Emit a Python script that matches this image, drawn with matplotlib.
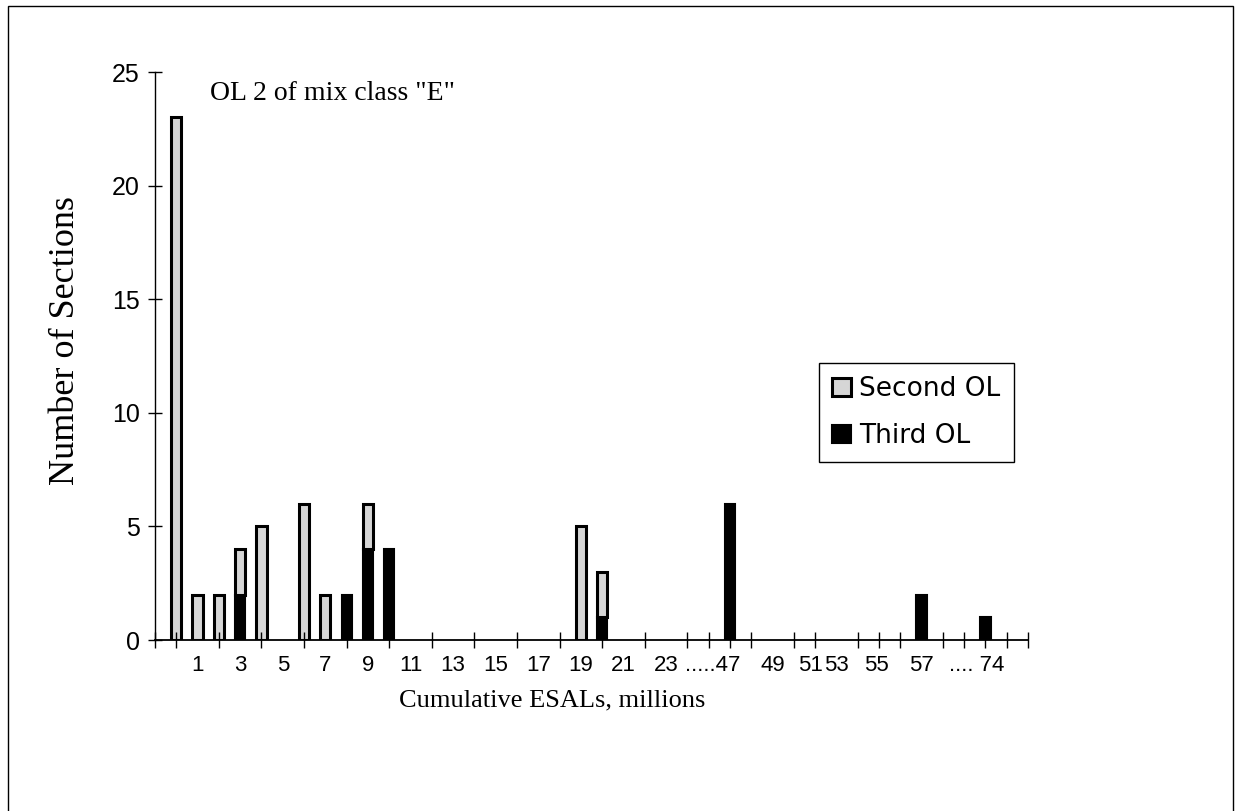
import numpy as np
import matplotlib.pyplot as plt
from matplotlib.patches import Rectangle

# number of sections per cumulative ESAL slot (slot 0 = first bar, unlabeled)
second_ol = [23, 2, 2, 2, 5, 0, 6, 2, 0, 2, 0, 0, 0, 0, 0, 0, 0, 0, 0, 5,
             2, 0, 0, 0, 0, 0, 0, 0, 0, 0, 0, 0, 0, 0, 0, 0, 0, 0, 0, 0]
third_ol = [0, 0, 0, 2, 0, 0, 0, 0, 2, 4, 4, 0, 0, 0, 0, 0, 0, 0, 0, 0,
            1, 0, 0, 0, 0, 0, 6, 0, 0, 0, 0, 0, 0, 0, 0, 2, 0, 0, 1, 0]
slots = np.arange(len(second_ol))

# x tick labels as they appear under the axis
xlabels = ['1', '3', '5', '7', '9', '11', '13', '15', '17', '19', '21', '23',
           '.....47', '49', '51', '53', '55', '57', '.... 74']
xlabel_slots = [1, 3, 5, 7, 9, 11, 13, 15, 17, 19, 21, 23,
                25.2, 28, 29.8, 31, 32.9, 35, 37.6]

W, H = 1235, 811
fig = plt.figure(figsize=(W / 100, H / 100), dpi=100)
ax = fig.add_axes([155 / W, 1 - 640 / H, (1028 - 155) / W, (640 - 72) / H])

sans = 'Liberation Sans'
serif = 'Liberation Serif'

# skip empty slots so no zero-height outlines are drawn on the axis
s2 = np.array(second_ol)
s3 = np.array(third_ol)
m3 = s3 > 0
m2 = s2 > 0
ax.bar(slots[m3], s3[m3], width=0.48, color='black', edgecolor='black',
       linewidth=1.5, label='Third OL')
ax.bar(slots[m2], s2[m2], width=0.48, bottom=s3[m2], color='#d6d6d6',
       edgecolor='black', linewidth=2.2, label='Second OL')

ax.set_xlim(-1, 40)
ax.set_ylim(0, 25)
ax.spines['top'].set_visible(False)
ax.spines['right'].set_visible(False)
ax.spines['left'].set_linewidth(1.0)
ax.spines['bottom'].set_linewidth(1.3)

# tick marks at every slot, labels placed separately
ax.set_xticks(np.arange(-1, 41), minor=True)
ax.set_xticks(xlabel_slots)
ax.set_xticklabels(xlabels, fontsize=16, family=sans)
ax.tick_params(axis='x', which='minor', direction='inout', length=11, width=1)
ax.tick_params(axis='x', which='major', length=0, pad=11)

ax.set_yticks([0, 5, 10, 15, 20, 25])
ax.set_yticklabels(['0', '5', '10', '15', '20', '25'], fontsize=18, family=sans)
ax.tick_params(axis='y', direction='inout', length=10, width=1, pad=6)

ax.set_xlabel('Cumulative ESALs, millions', fontsize=19, family=serif)
ax.xaxis.set_label_coords(0.455, -0.106)
ax.xaxis.label.set_va('center')
ax.set_ylabel('Number of Sections', fontsize=26, family=serif)
ax.yaxis.set_label_coords(-0.103, 0.527)
ax.yaxis.label.set_va('center')

ax.text(0.063, 0.951, 'OL 2 of mix class "E"', transform=ax.transAxes,
        fontsize=20, family=serif, va='baseline', ha='left')

# legend: Second OL on top
h, l = ax.get_legend_handles_labels()
leg = ax.legend(h[::-1], l[::-1], loc='upper left',
                bbox_to_anchor=(819 / W, 1 - 363 / H), bbox_transform=fig.transFigure,
                prop={'family': 'DejaVu Sans', 'size': 19}, fancybox=False,
                framealpha=1, edgecolor='black', handlelength=0.72,
                handleheight=0.72, handletextpad=0.3, labelspacing=0.8,
                borderpad=0.5, borderaxespad=0)
leg.get_frame().set_linewidth(1.0)

# outer border of the chart area
fig.patches.append(Rectangle((8 / W, -0.01), (1233 - 8) / W, 1.01 - 6 / H,
                             transform=fig.transFigure, fill=False,
                             edgecolor='black', linewidth=1))

fig.savefig('out.png', dpi=100)
